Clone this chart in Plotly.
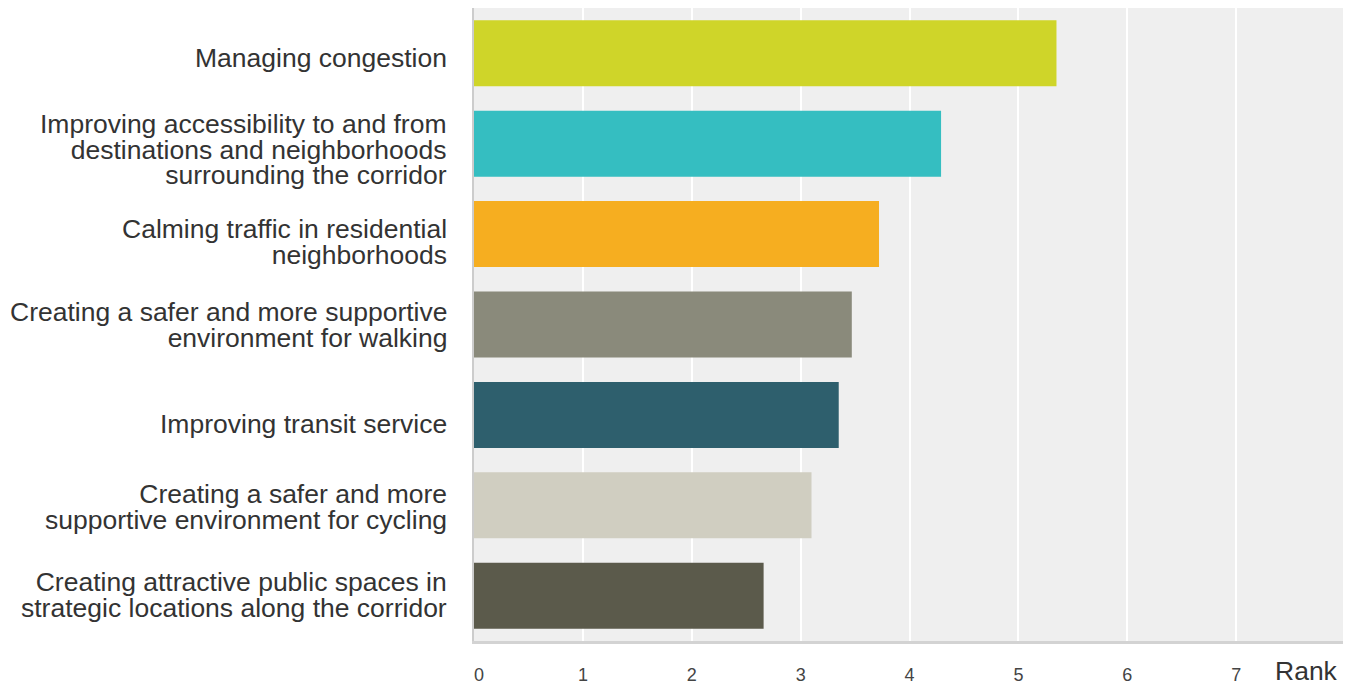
import plotly.graph_objects as go

categories = [
    "Managing congestion",
    "Improving accessibility to and from<br>destinations and neighborhoods<br>surrounding the corridor",
    "Calming traffic in residential<br>neighborhoods",
    "Creating a safer and more supportive<br>environment for walking",
    "Improving transit service",
    "Creating a safer and more<br>supportive environment for cycling",
    "Creating attractive public spaces in<br>strategic locations along the corridor",
]
values = [5.35, 4.29, 3.72, 3.47, 3.35, 3.10, 2.66]
colors = ["#cfd529", "#35bec1", "#f6ae20", "#8a8a7b", "#2e5f6d", "#d0cec1", "#5b5a4b"]
tick_vals = [0, 1, 2, 3, 4, 5, 6, 7]
tick_labels = ["0", "1", "2", "3", "4", "5", "6", "7"]
axis_title = "Rank"

# layout tweaks (pixels): baseline of the label block's middle line below bar centre
label_baseline_px = [13.5, 14.7, 17.1, 9.7, 18.4, 10.4, 8.4]
LINE_H = 25.5          # desired line pitch
LABEL_SIZE = 26.5      # glyph size
BASE_SIZE = LINE_H / 1.3   # plotly line spacing = 1.3 * base font size
ASC, DESC = 0.905, 0.212

FONT = "Arial, 'Liberation Sans', sans-serif"

fig = go.Figure()
fig.add_trace(go.Bar(
    x=values,
    y=list(range(len(categories))),
    orientation="h",
    marker=dict(color=colors, line=dict(width=0)),
    hoverinfo="x",
))

annotations = []
mid_off = (ASC - (ASC + DESC) / 2) * LABEL_SIZE  # middle baseline below bbox centre
for i, cat in enumerate(categories):
    lines = cat.split("<br>")
    text = "<br>".join(f'<span style="font-size:{LABEL_SIZE}px">{ln}</span>' for ln in lines)
    annotations.append(dict(
        text=text, xref="paper", yref="y", x=0, y=i,
        xanchor="right", yanchor="middle", align="right", xshift=-25,
        yshift=-(label_baseline_px[i] - mid_off), showarrow=False,
        font=dict(family=FONT, size=BASE_SIZE, color="#333333"),
    ))

annotations.append(dict(
    text=axis_title, xref="paper", yref="paper", x=1, y=0,
    xanchor="right", yanchor="middle", yshift=-29.5, xshift=-5,
    showarrow=False, font=dict(family=FONT, size=26.5, color="#333333"),
))

# page body has an 8px margin, so the figure is offset by (8, 8)
fig.update_layout(
    width=1343, height=678,
    margin=dict(l=466, r=6, t=0, b=45),
    paper_bgcolor="white",
    plot_bgcolor="#efefef",
    bargap=0.27,
    showlegend=False,
    annotations=annotations,
    font=dict(family=FONT, color="#333333"),
)
fig.update_xaxes(
    range=[0, 8], tickvals=tick_vals,
    ticktext=["\u00a0\u00a0" + tick_labels[0]] + tick_labels[1:],
    showgrid=True, gridcolor="white", gridwidth=2,
    zeroline=False, showline=True, linecolor="#d3d3d3", linewidth=3,
    ticks="outside", ticklen=15, tickcolor="rgba(0,0,0,0)",
    tickfont=dict(family=FONT, size=18, color="#444444"), fixedrange=True,
)
fig.update_yaxes(
    range=[6.5, -0.5], showticklabels=False, showgrid=False, zeroline=False,
    showline=True, linecolor="#cccccc", linewidth=2, fixedrange=True,
)

fig.write_html("out.html")
